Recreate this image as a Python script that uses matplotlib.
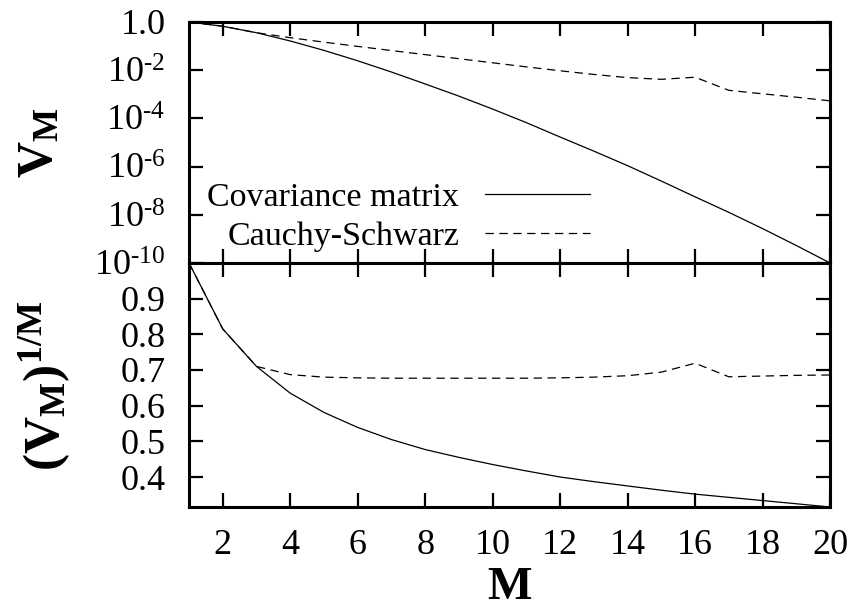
import matplotlib
matplotlib.use('Agg')
import matplotlib.pyplot as plt
import numpy as np

plt.rcParams['font.family'] = ['Liberation Serif', 'DejaVu Serif']
plt.rcParams['mathtext.fontset'] = 'custom'
plt.rcParams['mathtext.rm'] = 'Liberation Serif'
plt.rcParams['mathtext.it'] = 'Liberation Serif'
plt.rcParams['mathtext.bf'] = 'Liberation Serif:bold'
plt.rcParams['lines.scale_dashes'] = False

# data
M = np.arange(1, 21)
vCov = [1.0, 0.664, 0.358, 0.1626, 0.0662, 0.0245, 0.00837, 0.00268, 8.36e-4, 2.43e-4,
        6.64e-5, 1.68e-5, 4.37e-6, 1.09e-6, 2.50e-7, 5.54e-8, 1.26e-8, 2.67e-9, 5.3e-10, 1.0e-10]
vCS = [1.0, 0.664, 0.358, 0.2227, 0.1454, 0.0971, 0.0652, 0.0441, 0.0299, 0.0202,
       0.0137, 0.00944, 0.00665, 0.00491, 0.00417, 0.00510, 0.001457, 0.001046, 7.56e-4, 5.33e-4]
rCov = [1.0, 0.815, 0.71, 0.635, 0.581, 0.539, 0.505, 0.477, 0.455, 0.435,
        0.417, 0.400, 0.387, 0.375, 0.363, 0.352, 0.343, 0.334, 0.325, 0.316]
rCS = [1.0, 0.815, 0.71, 0.687, 0.680, 0.678, 0.677, 0.677, 0.677, 0.677,
       0.677, 0.678, 0.680, 0.684, 0.694, 0.719, 0.681, 0.683, 0.685, 0.686]

xTicks = [2, 4, 6, 8, 10, 12, 14, 16, 18, 20]
topTicks = [1.0, 1e-2, 1e-4, 1e-6, 1e-8, 1e-10]
topLabels = ['1.0', r'$10^{\text{-}2}$', r'$10^{\text{-}4}$', r'$10^{\text{-}6}$',
             r'$10^{\text{-}8}$', r'$10^{\text{-}10}$']
botTicks = [0.4, 0.5, 0.6, 0.7, 0.8, 0.9]

fig = plt.figure(figsize=(8.53, 6.12), dpi=100)
axTop = fig.add_axes([0.2216, 0.5703, 0.7515, 0.3938])
axBot = fig.add_axes([0.2216, 0.1716, 0.7515, 0.3987])

fs = 26
for ax in (axTop, axBot):
    for s in ax.spines.values():
        s.set_linewidth(2.2)
    ax.tick_params(direction='in', length=10, width=1.6, top=True, right=True,
                   labelsize=fs, pad=17)
    ax.set_xlim(1, 20)
    ax.set_xticks(xTicks)

lw = 0.9
axTop.plot(M, vCov, 'k-', lw=lw, label='Covariance matrix')
axTop.plot(M, vCS, 'k', lw=lw, dashes=(6, 4), label='Cauchy-Schwarz')
axTop.set_yscale('log')
axTop.set_ylim(1e-10, 1.0)
axTop.set_yticks(topTicks)
axTop.set_yticklabels(topLabels)
axTop.minorticks_off()
axTop.tick_params(axis='x', labelbottom=False)
axTop.legend(loc='lower right', bbox_to_anchor=(0.626, 0.044), frameon=False,
             fontsize=24.5, markerfirst=False, handlelength=3.1, handletextpad=0.75,
             labelspacing=0.25, borderaxespad=0, borderpad=0)

axBot.plot(M, rCov, 'k-', lw=lw)
axBot.plot(M, rCS, 'k', lw=lw, dashes=(6, 4))
axBot.set_ylim(0.316, 1.0)
axBot.set_yticks(botTicks)
axBot.tick_params(axis='x', pad=16)

fig.text(0.047, 1 - 143 / 612, r'$\mathbf{V_M}$', rotation=90, fontsize=36,
         ha='center', va='center')
fig.text(0.053, 1 - 386 / 612, r'$\mathbf{(V_M)^{1/M}}$', rotation=90, fontsize=37,
         ha='center', va='center')
fig.text(0.597, 1 - 609 / 612, r'$\mathbf{M}$', fontsize=34, ha='center', va='bottom')

fig.savefig('out.png', dpi=100)
